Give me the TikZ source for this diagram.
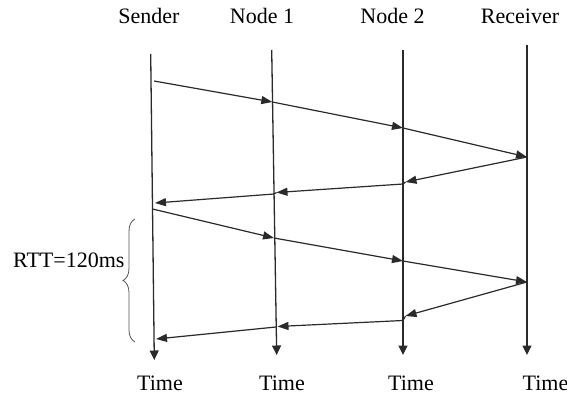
\documentclass[tikz,border=0pt]{standalone}
\usepackage{fontspec}
\setmainfont{Liberation Serif}
\usetikzlibrary{arrows.meta,decorations.pathreplacing}
\definecolor{linegray}{HTML}{2A2A2A}
\begin{document}
\begin{tikzpicture}[x=1pt,y=-1pt,
  lbl/.style={font=\fontsize{22}{26}\selectfont, inner sep=0pt, anchor=base},
  life/.style={draw=linegray, line width=1.3pt, -{Triangle[length=9.5pt,width=9pt]}},
  msg/.style={draw=linegray, line width=1.2pt, -{Triangle[length=11pt,width=8pt]}},
  seg/.style={draw=linegray, line width=1.2pt},
  bracestyle/.style={draw=linegray!80, line width=0.8pt, decorate,
    decoration={brace, amplitude=12pt}}
]
\useasboundingbox (0,0) rectangle (567,398);

% column labels
\node[lbl] (sender) at (149,24) {Sender};
\node[lbl] (node1) at (262,24) {Node 1};
\node[lbl] (node2) at (392.5,24) {Node 2};
\node[lbl] (receiver) at (520,24) {Receiver};

% time labels
\node[lbl] (t1) at (160,390) {Time};
\node[lbl] (t2) at (282,390) {Time};
\node[lbl] (t3) at (411,390) {Time};
\node[lbl] (t4) at (545.5,390) {Time};

% lifelines
\coordinate (sT) at (150.7,54);  \coordinate (sB) at (154.3,360);
\coordinate (aT) at (271.7,50);  \coordinate (aB) at (276.7,355);
\coordinate (bT) at (403,50);    \coordinate (bB) at (403,355);
\coordinate (rT) at (527,45);    \coordinate (rB) at (527,355);
\draw[life] (sT) -- (sB);
\draw[life] (aT) -- (aB);
\draw[life] (bT) -- (bB);
\draw[life] (rT) -- (rB);

% first round
\coordinate (m0) at (154,81);
\coordinate (m1) at (272.3,102);
\coordinate (m2) at (403,128);
\coordinate (m3) at (527,157);
\coordinate (m4) at (405.5,182);
\coordinate (m4d) at (403,184);
\coordinate (m5) at (276.5,192.5);
\coordinate (m5d) at (274,194);
\coordinate (m6) at (155,203);
\draw[msg] (m0) -- (m1);
\draw[msg] (m1) -- (m2);
\draw[msg] (m2) -- (m3);
\draw[msg] (m3) -- (m4);
\draw[seg] (m4) -- (m4d);
\draw[msg] (m4d) -- (m5);
\draw[seg] (m5) -- (m5d);
\draw[msg] (m5d) -- (m6);

% second round
\coordinate (n0) at (152.5,209);
\coordinate (n1) at (274,238);
\coordinate (n2) at (403,261);
\coordinate (n3) at (527,282);
\coordinate (n4) at (405.5,316);
\coordinate (n4d) at (403,320.5);
\coordinate (n5) at (277.5,326.5);
\coordinate (n5d) at (276,327);
\coordinate (n6) at (156,339);
\draw[msg] (n0) -- (n1);
\draw[msg] (n1) -- (n2);
\draw[msg] (n2) -- (n3);
\draw[msg] (n3) -- (n4);
\draw[seg] (n4) -- (n4d);
\draw[msg] (n4d) -- (n5);
\draw[msg] (n5d) -- (n6);

% RTT brace
\coordinate (bL) at (135,342);
\coordinate (bU) at (135,219);
\draw[bracestyle] (bL) -- (bU);
\node[lbl, anchor=base west] (rtt) at (13,267) {RTT=120ms};
\end{tikzpicture}
\end{document}
